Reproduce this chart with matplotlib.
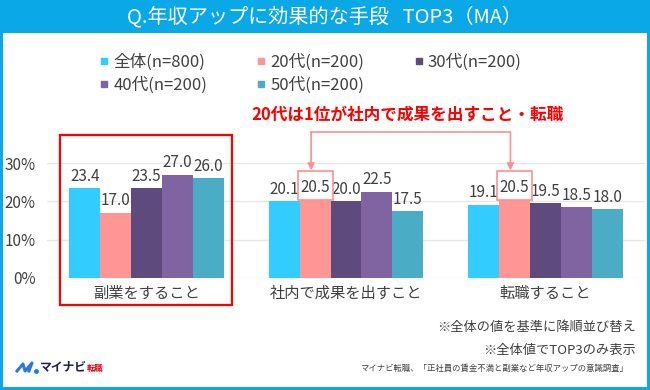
import matplotlib
matplotlib.use("Agg")
import matplotlib.pyplot as plt
from matplotlib.patches import Rectangle
from matplotlib.lines import Line2D
import numpy as np

plt.rcParams['font.family'] = ['Noto Sans CJK JP', 'DejaVu Sans']

categories = ["副業をすること", "社内で成果を出すこと", "転職すること"]
series_names = ["全体(n=800)", "20代(n=200)", "30代(n=200)", "40代(n=200)", "50代(n=200)"]
v_all = [23.4, 20.1, 19.1]
v_20s = [17.0, 20.5, 20.5]
v_30s = [23.5, 20.0, 19.5]
v_40s = [27.0, 22.5, 18.5]
v_50s = [26.0, 17.5, 18.0]
values = [v_all, v_20s, v_30s, v_40s, v_50s]
colors = ["#33CCFF", "#FF9595", "#5E4A7C", "#8064A2", "#4BACC6"]
yticks = [0, 10, 20, 30]
ytick_labels = ["0%", "10%", "20%", "30%"]

title = "Q.年収アップに効果的な手段   TOP3（MA）"
note_red = "20代は1位が社内で成果を出すこと・転職"
foot1 = "※全体の値を基準に降順並び替え"
foot2 = "※全体値でTOP3のみ表示"
source = "マイナビ転職、「正社員の賃金不満と副業など年収アップの意識調査」"

TXT = "#404040"
BLUE = "#0BA8E8"

fig = plt.figure(figsize=(6.5, 3.9), dpi=100)
fig.patch.set_facecolor("white")

ax = fig.add_axes([47/650, 112/390, 598/650, 134/390])
x = np.arange(len(categories))
bw = 0.155
for i, (name, vals, c) in enumerate(zip(series_names, values, colors)):
    bars = ax.bar(x + (i - 2) * bw, vals, width=bw, color=c, label=name, zorder=3)
    ax.bar_label(bars, labels=[f"{v:.1f}" for v in vals], padding=2.5,
                 fontsize=11, color=TXT, zorder=4)

ax.set_xlim(-0.5, 2.5)
ax.set_ylim(0, 35)
ax.set_yticks(yticks)
ax.set_yticklabels(ytick_labels, fontsize=11, color=TXT)
ax.set_xticks(x)
ax.set_xticklabels(categories, fontsize=11, color=TXT)
ax.tick_params(axis='y', length=0, pad=8)
ax.tick_params(axis='x', length=0, pad=5)
for s in ax.spines.values():
    s.set_visible(False)
ax.grid(axis='y', color="#E6E6E6", linewidth=1, zorder=0)
ax.set_axisbelow(True)

# Red highlight box around first group
ax.add_patch(Rectangle((-0.437, -7.05), 0.864, 44.3, fill=False,
                       edgecolor="#FF0000", linewidth=1.6, clip_on=False, zorder=5))

# boxes + arrows around 20代 values in groups 2 and 3
PINK = "#FF8F8F"
hl_idx = [1, 2]
xs = []
for g in hl_idx:
    xc = g + (1 - 2) * bw
    xs.append(xc - 0.02)
    ax.add_patch(Rectangle((xc - 0.088, v_20s[g]), 0.176, 27.9 - v_20s[g], fill=False,
                           edgecolor=PINK, linewidth=1.2, clip_on=False, zorder=5))
ax.plot([xs[0], xs[1]], [38.1, 38.1], color=PINK, linewidth=1.2, clip_on=False, zorder=5)
for xa in xs:
    ax.annotate("", xy=(xa, 28.1), xytext=(xa, 38.1),
                arrowprops=dict(arrowstyle="-|>,head_length=0.4,head_width=0.2",
                                color=PINK, lw=1.2, shrinkA=0, shrinkB=0),
                annotation_clip=False, zorder=5)

fig.text(407/650, 1 - 115/390, note_red, color="#FF0000", fontsize=12,
         fontweight="bold", ha="center", va="center")

# legend (row-wise order)
handles = [Line2D([], [], marker='s', linestyle='none', markersize=4.5,
                  markerfacecolor=c, markeredgecolor=c) for c in colors]
order = [0, 3, 1, 4, 2]
fig.legend([handles[i] for i in order], [series_names[i] for i in order],
           ncol=3, loc="upper left", bbox_to_anchor=(100/650, 1 - 54/390),
           frameon=False, fontsize=12, handlelength=0.5, handletextpad=0.3,
           columnspacing=3.0, labelspacing=0.3, borderpad=0, borderaxespad=0,
           labelcolor=TXT)

# title bar
fig.add_artist(Rectangle((0, 1 - 33/390), 1, 33/390, transform=fig.transFigure,
                         facecolor=BLUE, edgecolor="none", zorder=0))
fig.text(0.5, 1 - 17/390, title, color="white", fontsize=14.5,
         ha="center", va="center")

# footnotes
fig.text(636/650, 1 - 328/390, foot1, color=TXT, fontsize=9.5, ha="right", va="center")
fig.text(636/650, 1 - 350/390, foot2, color=TXT, fontsize=9.5, ha="right", va="center")
fig.text(628/650, 1 - 368/390, source, color=TXT, fontsize=6, ha="right", va="center")

# logo
fig.add_artist(Line2D(np.array([17, 23, 25, 32, 29]) / 650,
                      1 - np.array([371, 364, 371, 363, 371]) / 390,
                      transform=fig.transFigure, color="#2B7BD6", linewidth=2.2,
                      solid_joinstyle="round"))
fig.add_artist(Line2D([36/650], [1 - 371/390], transform=fig.transFigure,
                      marker='o', markersize=2.5, color="#2B7BD6", linestyle='none'))
fig.text(40/650, 1 - 367/390, "マイナビ", color="#1B1F4E", fontsize=8.5,
         fontweight="bold", ha="left", va="center")
fig.text(87/650, 1 - 368/390, "転職", color="#E60012", fontsize=6,
         fontweight="bold", ha="left", va="center")

# outer blue frame
fig.add_artist(Rectangle((0, 0), 1, 1, transform=fig.transFigure, fill=False,
                         edgecolor=BLUE, linewidth=4.3, zorder=10))

fig.savefig("out.png", dpi=100)
